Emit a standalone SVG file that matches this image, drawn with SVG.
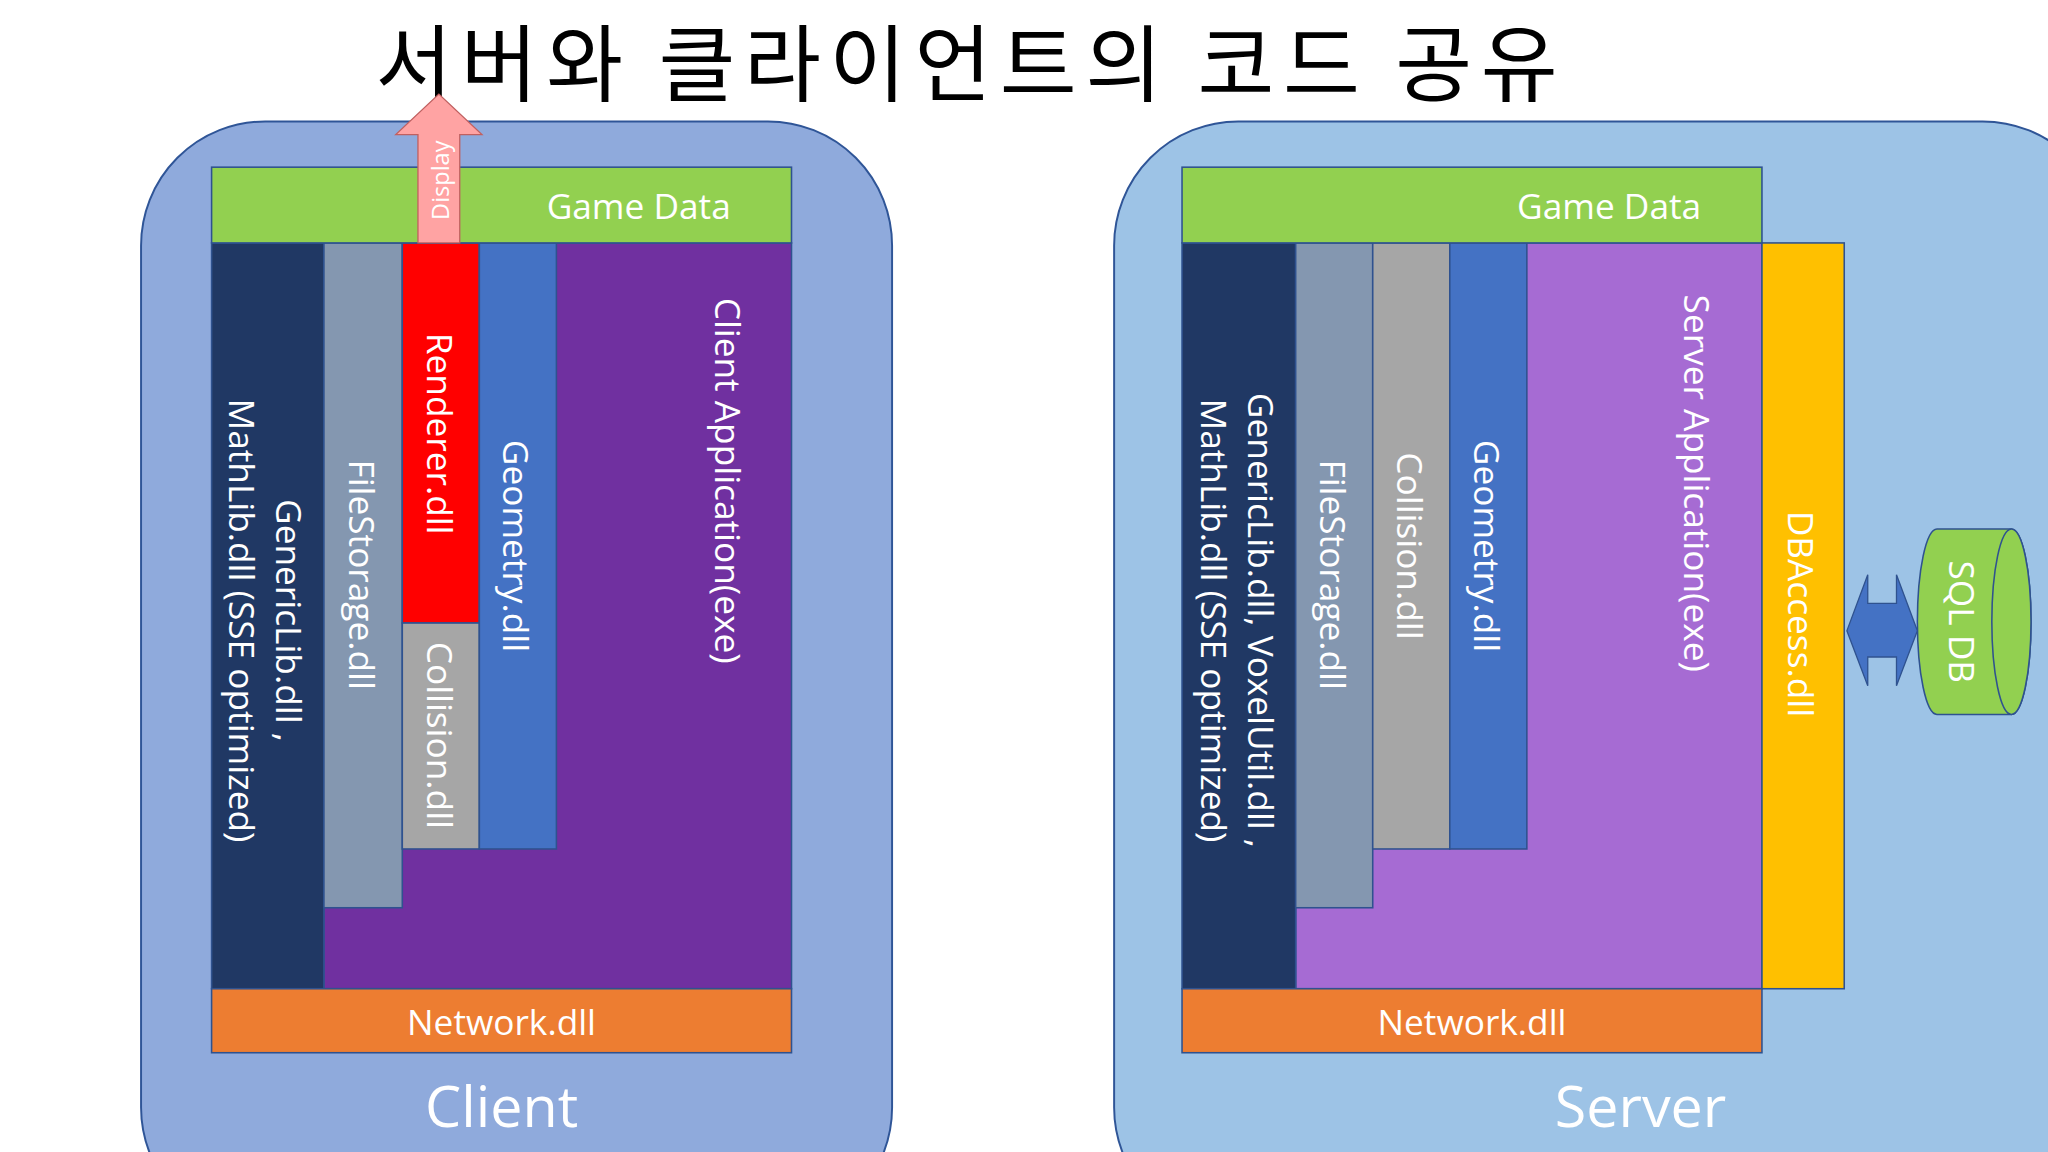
<svg xmlns="http://www.w3.org/2000/svg" width="2048" height="1152" viewBox="0 0 2048 1152">
<style>
.b{stroke:#2f528f;stroke-width:1.2}
.t{font-family:"Open Sans","Noto Sans",sans-serif;fill:#fff;font-size:27px;text-anchor:middle;dominant-baseline:central}
.big{font-size:44px}
.sm{font-size:18px}
</style>
<rect width="2048" height="1152" fill="#fff"/>
<g transform="scale(1.30612)">
<text x="740" y="73" font-family="'Noto Sans CJK KR',sans-serif" font-size="64" text-anchor="middle" textLength="905" lengthAdjust="spacing" fill="#000">서버와 클라이언트의 코드 공유</text>
<g id="client">
<rect x="108" y="93" width="575" height="850" rx="95" fill="#8faadc" stroke="#2f5597" stroke-width="1.5"/>
<text x="384" y="846" class="t big">Client</text>
</g>
<g id="server">
<rect x="853" y="93" width="760" height="850" rx="95" fill="#9dc3e6" stroke="#2f5597" stroke-width="1.5"/>
<text x="1256" y="846" class="t big">Server</text>
</g>
<g id="c-app"><rect x="248" y="186" width="358" height="571" fill="#7030a0" class="b"/><text class="t" transform="translate(558,368) rotate(90)">Client Application(exe)</text></g>
<g id="c-math"><rect x="162" y="186" width="86" height="571" fill="#203864" class="b"/><text class="t" transform="translate(204,475) rotate(90)"><tspan x="0" y="-18">GenericLib.dll ,</tspan><tspan x="0" y="18">MathLib.dll (SSE optimized)</tspan></text></g>
<g id="c-file"><rect x="248" y="186" width="60" height="509" fill="#8497b0" class="b"/><text class="t" transform="translate(278,440) rotate(90)">FileStorage.dll</text></g>
<g id="c-render"><rect x="308" y="186" width="59" height="291" fill="#ff0000" class="b"/><text class="t" transform="translate(338,332) rotate(90)">Renderer.dll</text></g>
<g id="c-coll"><rect x="308" y="477" width="59" height="173" fill="#a6a6a6" class="b"/><text class="t" transform="translate(338,563) rotate(90)">Collision.dll</text></g>
<g id="c-geo"><rect x="367" y="186" width="59" height="464" fill="#4472c4" class="b"/><text class="t" transform="translate(396,418) rotate(90)">Geometry.dll</text></g>
<g id="c-game"><rect x="162" y="128" width="444" height="58" fill="#92d050" class="b"/><text class="t" x="489" y="157">Game Data</text></g>
<g id="c-net"><rect x="162" y="757" width="444" height="49" fill="#ed7d31" class="b"/><text class="t" x="384" y="782">Network.dll</text></g>
<g id="display"><path d="M320,186 V103 H303 L336,72 L369,103 H352 V186 Z" fill="#ffa3a3" stroke="#c06060" stroke-width="1"/><text class="t sm" transform="translate(337,138) rotate(-90)">Display</text></g>
<g id="s-app"><rect x="992" y="186" width="357" height="571" fill="#a66bd3" class="b"/><text class="t" transform="translate(1300,370) rotate(90)">Server Application(exe)</text></g>
<g id="s-math"><rect x="905" y="186" width="87" height="571" fill="#203864" class="b"/><text class="t" transform="translate(948,475) rotate(90)"><tspan x="0" y="-18">GenericLib.dll, VoxelUtil.dll ,</tspan><tspan x="0" y="18">MathLib.dll (SSE optimized)</tspan></text></g>
<g id="s-file"><rect x="992" y="186" width="59" height="509" fill="#8497b0" class="b"/><text class="t" transform="translate(1021,440) rotate(90)">FileStorage.dll</text></g>
<g id="s-coll"><rect x="1051" y="186" width="59" height="464" fill="#a6a6a6" class="b"/><text class="t" transform="translate(1080,418) rotate(90)">Collision.dll</text></g>
<g id="s-geo"><rect x="1110" y="186" width="59" height="464" fill="#4472c4" class="b"/><text class="t" transform="translate(1139,418) rotate(90)">Geometry.dll</text></g>
<g id="s-db"><rect x="1349" y="186" width="63" height="571" fill="#ffc000" class="b"/><text class="t" transform="translate(1380,470) rotate(90)">DBAccess.dll</text></g>
<g id="s-game"><rect x="905" y="128" width="444" height="58" fill="#92d050" class="b"/><text class="t" x="1232" y="157">Game Data</text></g>
<g id="s-net"><rect x="905" y="757" width="444" height="49" fill="#ed7d31" class="b"/><text class="t" x="1127" y="782">Network.dll</text></g>
<g id="sqldb"><path d="M1483,405 H1540 A15,71 0 0 1 1540,547 H1483 A15,71 0 0 1 1483,405 Z" fill="#92d050" stroke="#2f528f" stroke-width="1.2"/><ellipse cx="1540" cy="476" rx="15" ry="71" fill="#92d050" stroke="#2f528f" stroke-width="1.2"/><text class="t" transform="translate(1503,476) rotate(90)">SQL DB</text></g>
<g id="connectors"><path d="M1414,483 L1430,440 V462 H1452 V440 L1468,483 L1452,525 V503 H1430 V525 Z" fill="#4472c4" stroke="#2f528f" stroke-width="1"/></g>
</g>
</svg>
